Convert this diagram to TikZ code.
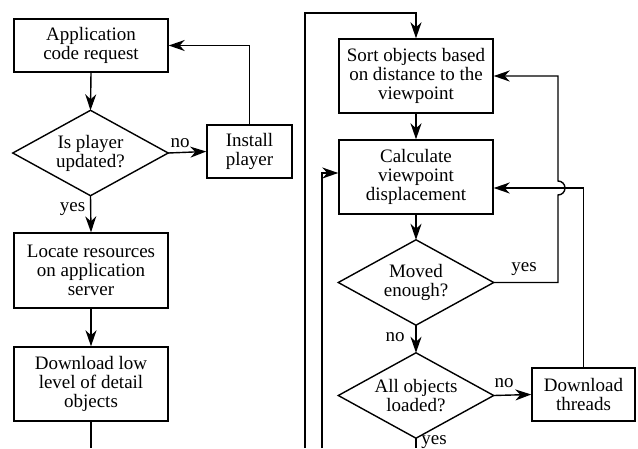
\documentclass[tikz,border=0pt]{standalone}
\usepackage{fontspec}
\setmainfont{Liberation Serif}
\usetikzlibrary{arrows.meta}
\begin{document}
\begin{tikzpicture}[x=1pt,y=-1pt, line width=1.4pt,
  txt/.style={font=\fontsize{19}{19}\selectfont},
  box/.style={txt, draw, rectangle, inner sep=0pt, align=center},
  dec/.style={txt, rectangle, inner sep=0pt, minimum width=154pt, minimum height=84pt, align=center},
  arr/.style={-{Stealth[length=16pt,width=11pt,inset=5pt]}},
  lab/.style={txt, anchor=base, inner sep=0pt}]
\useasboundingbox (0,0) rectangle (638,448);
\clip (0,0) rectangle (638,448);
\fill[white] (0,0) rectangle (638,448);

% nodes
\node[box, minimum width=154pt, minimum height=53pt] (app) at (91,45.5) {Application\\code request};
\node[dec] (isup) at (90.5,153) {Is player\\updated?};
\node[box, minimum width=85pt, minimum height=53pt] (inst) at (249.5,151.5) {Install\\player};
\node[box, minimum width=154pt, minimum height=75pt] (loc) at (91,270.5) {Locate resources\\on application\\server};
\node[box, minimum width=154pt, minimum height=74pt] (dl) at (91,384) {Download low\\level of detail\\objects};
\node[box, minimum width=154pt, minimum height=74pt] (sort) at (416,76) {Sort objects based\\on distance to the\\viewpoint};
\node[box, minimum width=154pt, minimum height=74pt] (calc) at (416,177) {Calculate\\viewpoint\\displacement};
\node[dec] (moved) at (416,282.5) {Moved\\enough?};
\node[dec] (allobj) at (416,395.5) {All objects\\loaded?};
\node[box, minimum width=103pt, minimum height=53pt] (dt) at (583.5,394.5) {Download\\threads};

% diamonds
\foreach \n in {isup,moved,allobj}
  \draw[line join=miter] (\n.north) -- (\n.east) -- (\n.south) -- (\n.west) -- cycle;

% helper coordinates
\coordinate (b1) at (305,448);
\coordinate (t1) at (305,13);
\coordinate (b2) at (322,448);
\coordinate (b3) at (91,448);
\coordinate (bx) at (558,188);

% connectors
\draw[arr] (app.south) -- (isup.north);
\draw[arr] (isup.east) -- (inst.west);
\draw[arr] (inst.north) |- (app.east);
\draw[arr] (isup.south) -- (loc.north);
\draw[arr] (loc.south) -- (dl.north);
\draw (dl.south) -- (b3);

\draw[arr] (b1) -- (t1) -| (sort.north);
\draw[arr] (sort.south) -- (calc.north);
\draw[arr] (b2) |- ([yshift=4pt]calc.west);
\draw[arr] (calc.south) -- (moved.north);
\draw[arr] (moved.east) -| ([yshift=-7pt]bx) arc[start angle=-90,end angle=90,radius=7pt] |- (sort.east);
\draw[arr] (moved.south) -- (allobj.north);
\draw[arr] (allobj.east) -- (dt.west);
\draw[arr] (dt.north) |- ([yshift=-11pt]calc.east);
\draw (allobj.south) -- (allobj.south |- b3);

% labels
\node[lab] (l1) at (180,147) {no};
\node[lab] (l2) at (72.5,211) {yes};
\node[lab] (l3) at (524,271) {yes};
\node[lab] (l4) at (395,341) {no};
\node[lab] (l5) at (504,387) {no};
\node[lab] (l6) at (434,444) {yes};
\end{tikzpicture}
\end{document}
